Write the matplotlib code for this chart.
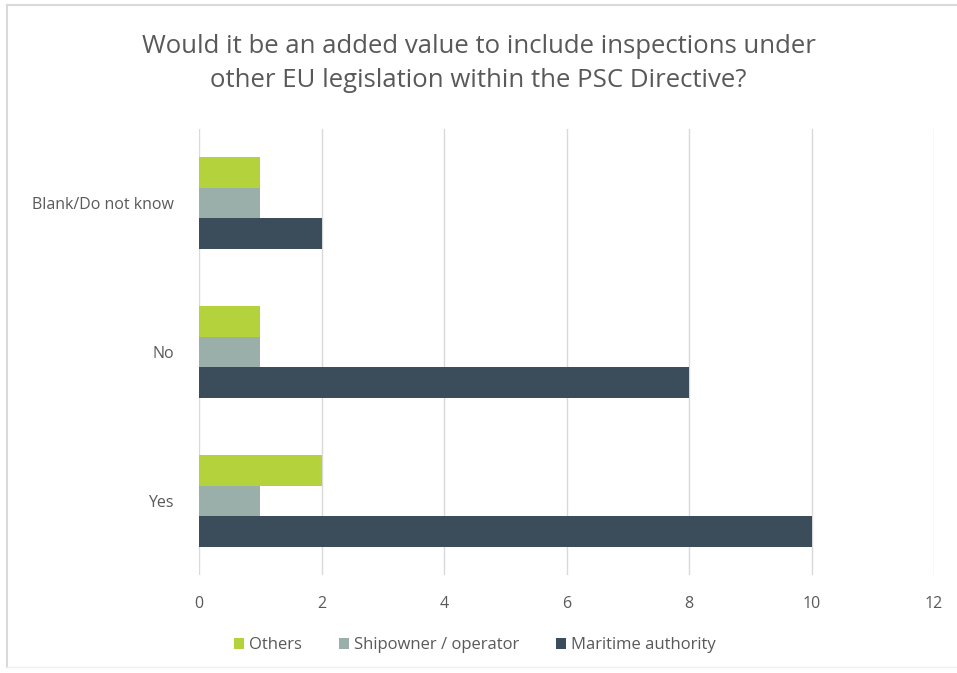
import numpy as np
import matplotlib.pyplot as plt
from matplotlib.lines import Line2D

# survey answers, one count per respondent group
categories = ["Yes", "No", "Blank/Do not know"]
others = [2, 1, 1]
shipowner = [1, 1, 1]
maritime = [10, 8, 2]

series = [("Maritime authority", maritime, "#3b4d5b"),
          ("Shipowner / operator", shipowner, "#9aaeaa"),
          ("Others", others, "#b3d23c")]

plt.rcParams["font.family"] = ["Open Sans", "DejaVu Sans"]

fig = plt.figure(figsize=(9.57, 6.73), dpi=100)
ax = fig.add_axes([0.208, 0.145, 0.768, 0.664])

y = np.arange(len(categories))
h = 0.205
for i, (name, vals, col) in enumerate(series):
    ax.barh(y + (i - 1) * h, vals, height=h, color=col, label=name, zorder=3)

ax.set_xlim(0, 12)
ax.set_ylim(-0.5, 2.5)
ax.set_xticks(range(0, 13, 2))
ax.set_yticks(y)
ax.set_yticklabels(categories)
ax.grid(axis="x", color="#d9d9d9", linewidth=1, zorder=0)
for s in ax.spines.values():
    s.set_visible(False)
ax.tick_params(length=0, labelsize=11.5, labelcolor="#595959")
ax.tick_params(axis="x", pad=15)
ax.tick_params(axis="y", pad=18)

fig.suptitle("Would it be an added value to include inspections under\n"
             "other EU legislation within the PSC Directive?",
             y=0.95, fontsize=18.5, color="#595959", linespacing=1.5)

handles, labels = ax.get_legend_handles_labels()
ax.legend(handles[::-1], labels[::-1], loc="upper center",
          bbox_to_anchor=(0.375, -0.105), ncol=3, frameon=False,
          fontsize=12, labelcolor="#595959", handlelength=0.6,
          handleheight=0.6, handletextpad=0.3, columnspacing=2.2)

# thin frame around the chart
fig.add_artist(Line2D([7 / 957, 7 / 957], [1 - 5 / 673, 1 - 667 / 673],
                      transform=fig.transFigure, color="#d9d9d9", lw=1.5))
fig.add_artist(Line2D([7 / 957, 1], [1 - 5 / 673, 1 - 5 / 673],
                      transform=fig.transFigure, color="#d9d9d9", lw=1.5))
fig.add_artist(Line2D([7 / 957, 1], [1 - 667 / 673, 1 - 667 / 673],
                      transform=fig.transFigure, color="#eeeeee", lw=1))

fig.savefig("out.png", dpi=100)
